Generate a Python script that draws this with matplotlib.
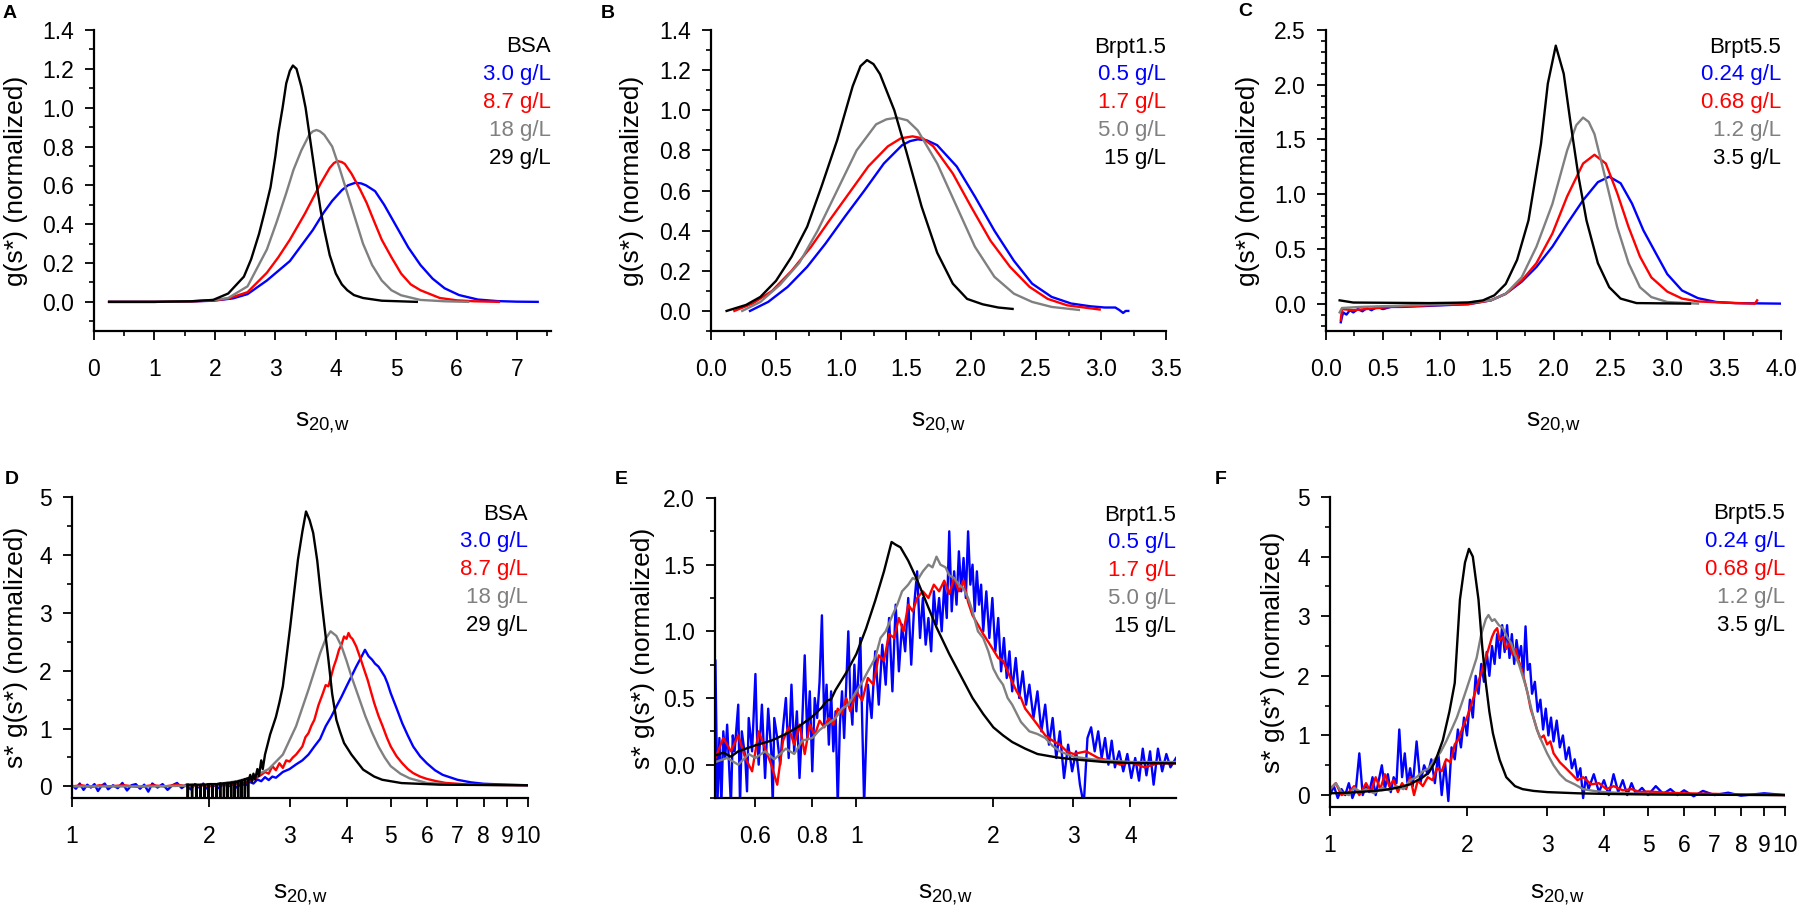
import matplotlib
matplotlib.use("Agg")
import matplotlib.pyplot as plt
from matplotlib.ticker import MultipleLocator, FixedLocator, FixedFormatter, NullLocator, FormatStrFormatter

plt.rcParams["font.family"] = ["Liberation Sans", "DejaVu Sans"]
plt.rcParams["mathtext.default"] = "regular"

BLUE, RED, GRAY, BLACK = "#0000ff", "#ff0000", "#808080", "#000000"

# ---------------- panel A: g(s*) BSA ----------------
a_blue = [(0.25, 0.0), (1.0, 0.0), (1.6, 0.002), (1.97, 0.006), (2.3, 0.018), (2.54, 0.04), (2.86, 0.11),
          (3.05, 0.16), (3.24, 0.21), (3.43, 0.29), (3.62, 0.37), (3.8, 0.46), (3.94, 0.52), (4.1, 0.575),
          (4.2, 0.6), (4.32, 0.613), (4.42, 0.61), (4.5, 0.6), (4.65, 0.57), (4.8, 0.5), (5.0, 0.39),
          (5.2, 0.28), (5.4, 0.19), (5.6, 0.12), (5.8, 0.07), (6.04, 0.035), (6.35, 0.012), (6.67, 0.004),
          (7.0, 0.001), (7.34, 0.0)]
a_red = [(0.25, 0.0), (1.0, 0.0), (1.6, 0.002), (2.0, 0.008), (2.22, 0.017), (2.54, 0.05), (2.86, 0.15),
         (3.05, 0.23), (3.24, 0.32), (3.49, 0.455), (3.75, 0.61), (3.9, 0.69), (3.97, 0.715), (4.03, 0.725),
         (4.1, 0.72), (4.15, 0.71), (4.26, 0.66), (4.4, 0.58), (4.51, 0.51), (4.64, 0.41), (4.76, 0.32),
         (4.92, 0.23), (5.08, 0.146), (5.24, 0.09), (5.4, 0.06), (5.72, 0.02), (6.0, 0.008), (6.3, 0.003),
         (6.7, 0.0)]
a_gray = [(0.25, 0.0), (1.0, 0.0), (1.6, 0.003), (2.0, 0.01), (2.22, 0.02), (2.54, 0.08), (2.86, 0.27),
          (3.02, 0.41), (3.18, 0.56), (3.3, 0.68), (3.43, 0.78), (3.56, 0.86), (3.62, 0.878), (3.68, 0.885),
          (3.74, 0.878), (3.81, 0.86), (3.94, 0.8), (4.06, 0.69), (4.19, 0.56), (4.32, 0.43), (4.45, 0.3),
          (4.6, 0.19), (4.76, 0.11), (4.92, 0.06), (5.08, 0.034), (5.4, 0.01), (5.8, 0.003), (6.19, 0.0)]
a_black = [(0.25, 0.0), (1.0, 0.0), (1.6, 0.003), (1.97, 0.01), (2.22, 0.043), (2.48, 0.13), (2.6, 0.22),
           (2.73, 0.35), (2.82, 0.46), (2.92, 0.59), (3.0, 0.75), (3.05, 0.87), (3.12, 1.0), (3.18, 1.125),
           (3.24, 1.19), (3.29, 1.217), (3.35, 1.2), (3.43, 1.108), (3.5, 1.0), (3.56, 0.87), (3.62, 0.74),
           (3.68, 0.61), (3.75, 0.47), (3.81, 0.37), (3.9, 0.24), (4.0, 0.146), (4.1, 0.09), (4.19, 0.06),
           (4.3, 0.035), (4.45, 0.02), (4.76, 0.006), (5.34, 0.0)]

# ---------------- panel B: g(s*) Brpt1.5 ----------------
b_blue = [(0.3, 0.0), (0.44, 0.045), (0.59, 0.12), (0.74, 0.22), (0.88, 0.335), (1.03, 0.47), (1.18, 0.6),
          (1.33, 0.735), (1.47, 0.826), (1.53, 0.846), (1.59, 0.855), (1.66, 0.85), (1.74, 0.826), (1.89, 0.72),
          (2.03, 0.57), (2.18, 0.4), (2.33, 0.25), (2.47, 0.136), (2.62, 0.07), (2.77, 0.037), (2.92, 0.023),
          (3.03, 0.017), (3.11, 0.017), (3.14, 0.005), (3.17, -0.01), (3.19, 0.0), (3.21, 0.0)]
b_red = [(0.18, 0.0), (0.32, 0.037), (0.47, 0.1), (0.62, 0.2), (0.77, 0.32), (0.91, 0.45), (1.06, 0.585),
         (1.21, 0.72), (1.36, 0.82), (1.46, 0.86), (1.55, 0.87), (1.63, 0.86), (1.71, 0.82), (1.86, 0.685),
         (2.0, 0.52), (2.15, 0.35), (2.3, 0.22), (2.45, 0.12), (2.59, 0.06), (2.74, 0.028), (2.99, 0.007)]
b_gray = [(0.24, 0.0), (0.38, 0.045), (0.53, 0.13), (0.68, 0.24), (0.82, 0.4), (0.97, 0.6), (1.12, 0.8),
          (1.27, 0.93), (1.35, 0.955), (1.43, 0.963), (1.51, 0.95), (1.59, 0.9), (1.74, 0.735), (1.89, 0.52),
          (2.03, 0.32), (2.18, 0.17), (2.33, 0.086), (2.47, 0.045), (2.62, 0.02), (2.83, 0.005)]
b_black = [(0.12, 0.0), (0.27, 0.03), (0.38, 0.07), (0.5, 0.15), (0.62, 0.27), (0.74, 0.42), (0.85, 0.62),
           (0.97, 0.85), (1.09, 1.12), (1.15, 1.22), (1.2, 1.25), (1.25, 1.23), (1.3, 1.18), (1.41, 1.0),
           (1.5, 0.8), (1.62, 0.52), (1.74, 0.29), (1.86, 0.136), (1.97, 0.06), (2.09, 0.033), (2.21, 0.017),
           (2.32, 0.01)]

# ---------------- panel C: g(s*) Brpt5.5 ----------------
c_blue = [(0.13, -0.17), (0.15, -0.08), (0.18, -0.1), (0.21, -0.06), (0.24, -0.08), (0.28, -0.05),
          (0.32, -0.07), (0.36, -0.04), (0.4, -0.06), (0.45, -0.03), (0.5, -0.05), (0.57, -0.03),
          (0.67, -0.03), (0.91, -0.02), (1.25, -0.005), (1.45, 0.03), (1.58, 0.09), (1.72, 0.2), (1.85, 0.335),
          (1.99, 0.52), (2.12, 0.73), (2.26, 0.945), (2.39, 1.11), (2.49, 1.16), (2.59, 1.1), (2.69, 0.915),
          (2.79, 0.67), (2.9, 0.46), (3.0, 0.27), (3.13, 0.12), (3.27, 0.05), (3.43, 0.015), (3.6, 0.005),
          (4.0, 0.0)]
c_red = [(0.13, -0.15), (0.14, -0.05), (0.24, -0.06), (0.4, -0.045), (0.57, -0.03), (0.91, -0.015),
         (1.25, -0.005), (1.45, 0.03), (1.58, 0.09), (1.72, 0.21), (1.85, 0.37), (1.99, 0.64), (2.12, 0.98),
         (2.26, 1.28), (2.36, 1.36), (2.46, 1.28), (2.56, 1.01), (2.66, 0.7), (2.76, 0.43), (2.86, 0.24),
         (3.0, 0.11), (3.13, 0.046), (3.27, 0.02), (3.6, 0.005), (3.77, 0.0), (3.79, 0.03)]
c_gray = [(0.12, -0.08), (0.14, -0.04), (0.3, -0.03), (0.6, -0.02), (1.0, -0.005), (1.25, 0.01), (1.45, 0.03),
          (1.58, 0.09), (1.72, 0.24), (1.85, 0.52), (1.99, 0.91), (2.12, 1.4), (2.2, 1.63), (2.26, 1.7),
          (2.31, 1.66), (2.36, 1.55), (2.46, 1.13), (2.56, 0.7), (2.66, 0.37), (2.76, 0.15), (2.86, 0.06),
          (3.0, 0.015), (3.27, 0.0)]
c_black = [(0.12, 0.03), (0.24, 0.01), (0.91, 0.005), (1.25, 0.01), (1.38, 0.03), (1.48, 0.076), (1.58, 0.18),
           (1.68, 0.4), (1.78, 0.76), (1.89, 1.46), (1.95, 2.01), (2.02, 2.357), (2.09, 2.1), (2.15, 1.65),
           (2.22, 1.16), (2.29, 0.76), (2.39, 0.37), (2.49, 0.15), (2.59, 0.046), (2.73, 0.005), (3.2, 0.0)]

# ---------------- panel D: s* g(s*) BSA ----------------
d_blue = [(1.0, 0.02), (1.02, -0.04), (1.04, 0.05), (1.06, -0.06), (1.08, 0.03), (1.1, -0.02), (1.12, 0.04),
          (1.14, -0.08), (1.16, 0.01), (1.18, 0.05), (1.2, -0.05), (1.23, 0.02), (1.26, -0.03), (1.29, 0.06),
          (1.32, -0.07), (1.35, 0.02), (1.38, 0.04), (1.41, -0.04), (1.44, 0.03), (1.47, -0.09), (1.5, 0.05),
          (1.54, -0.02), (1.58, 0.04), (1.62, -0.06), (1.66, 0.02), (1.7, 0.06), (1.74, -0.03), (1.78, 0.03),
          (1.82, -0.05), (1.86, 0.04), (1.9, -0.02), (1.94, 0.05), (1.98, -0.04), (2.02, 0.03), (2.06, 0.01),
          (2.1, -0.03), (2.15, 0.05), (2.2, 0.0), (2.25, 0.04), (2.3, -0.02), (2.35, 0.05), (2.4, 0.02),
          (2.45, 0.08), (2.5, 0.05), (2.55, 0.12), (2.6, 0.09), (2.65, 0.16), (2.7, 0.11), (2.75, 0.17),
          (2.8, 0.15), (2.9, 0.25), (3.0, 0.3), (3.1, 0.38), (3.2, 0.45), (3.3, 0.55), (3.4, 0.69), (3.5, 0.82),
          (3.6, 1.04), (3.7, 1.2), (3.8, 1.38), (3.9, 1.55), (4.0, 1.73), (4.1, 1.9), (4.2, 2.07), (4.3, 2.22),
          (4.39, 2.36), (4.47, 2.25), (4.55, 2.19), (4.62, 2.12), (4.7, 2.07), (4.78, 1.98), (4.85, 1.9),
          (4.92, 1.78), (5.0, 1.61), (5.15, 1.35), (5.3, 1.09), (5.45, 0.88), (5.6, 0.69), (5.8, 0.52),
          (6.0, 0.4), (6.25, 0.28), (6.5, 0.2), (7.0, 0.115), (7.5, 0.07), (8.0, 0.046), (9.0, 0.03),
          (10.0, 0.02)]
d_red = [(1.0, 0.0), (1.05, 0.02), (1.1, -0.01), (1.15, 0.02), (1.2, 0.0), (1.3, 0.02), (1.4, -0.01),
         (1.5, 0.02), (1.6, 0.0), (1.7, 0.03), (1.8, 0.0), (1.9, 0.02), (2.0, 0.01), (2.1, 0.03), (2.2, 0.02),
         (2.3, 0.05), (2.4, 0.06), (2.5, 0.12), (2.6, 0.2), (2.65, 0.25), (2.7, 0.22), (2.75, 0.35), (2.8, 0.28),
         (2.85, 0.4), (2.9, 0.32), (2.95, 0.45), (3.0, 0.43), (3.05, 0.5), (3.1, 0.55), (3.15, 0.62), (3.2, 0.69),
         (3.25, 0.85), (3.3, 0.92), (3.35, 1.05), (3.4, 1.15), (3.47, 1.4), (3.55, 1.61), (3.6, 1.75),
         (3.65, 1.73), (3.7, 1.9), (3.75, 2.07), (3.8, 2.2), (3.85, 2.36), (3.9, 2.45), (3.95, 2.59), (4.0, 2.55),
         (4.04, 2.65), (4.08, 2.58), (4.12, 2.55), (4.2, 2.42), (4.3, 2.19), (4.38, 2.0), (4.45, 1.84),
         (4.52, 1.65), (4.6, 1.44), (4.7, 1.22), (4.8, 1.04), (4.9, 0.85), (5.0, 0.69), (5.15, 0.52), (5.3, 0.4),
         (5.45, 0.3), (5.6, 0.23), (5.8, 0.17), (6.0, 0.13), (6.3, 0.09), (6.6, 0.06), (7.5, 0.03), (10.0, 0.02)]
d_gray = [(1.0, 0.0), (1.5, 0.0), (2.0, 0.02), (2.3, 0.09), (2.5, 0.17), (2.7, 0.3), (2.9, 0.55), (3.1, 1.04),
          (3.3, 1.67), (3.5, 2.3), (3.6, 2.55), (3.69, 2.68), (3.8, 2.6), (3.9, 2.42), (4.0, 2.17), (4.1, 1.9),
          (4.25, 1.55), (4.4, 1.21), (4.55, 0.93), (4.7, 0.69), (4.85, 0.5), (5.0, 0.35), (5.25, 0.22),
          (5.5, 0.14), (6.0, 0.06), (7.0, 0.03), (10.0, 0.02)]
d_black = [(1.79, 0.03), (1.794, -0.3), (1.798, 0.03), (1.83, 0.03), (1.834, -0.3), (1.838, 0.03),
           (1.87, 0.03), (1.874, -0.3), (1.878, 0.03), (1.91, 0.03), (1.914, -0.3), (1.918, 0.03),
           (1.95, 0.03), (1.954, -0.3), (1.958, 0.03), (1.99, 0.04), (1.994, -0.3), (1.998, 0.04),
           (2.03, 0.04), (2.034, -0.3), (2.038, 0.04), (2.07, 0.04), (2.074, -0.3), (2.078, 0.04),
           (2.11, 0.05), (2.114, -0.3), (2.118, 0.05), (2.15, 0.05), (2.154, -0.3), (2.158, 0.05),
           (2.19, 0.06), (2.194, -0.3), (2.198, 0.06), (2.23, 0.06), (2.234, -0.3), (2.238, 0.07),
           (2.27, 0.07), (2.274, -0.3), (2.278, 0.08), (2.31, 0.08), (2.314, -0.3), (2.318, 0.09),
           (2.35, 0.1), (2.354, -0.3), (2.358, 0.1), (2.39, 0.12), (2.394, -0.3), (2.398, 0.12),
           (2.43, 0.14), (2.434, -0.2), (2.438, 0.1), (2.46, 0.2), (2.48, 0.08), (2.5, 0.22), (2.52, 0.12),
           (2.55, 0.3), (2.57, 0.18), (2.6, 0.45), (2.62, 0.3), (2.65, 0.55), (2.68, 0.7), (2.72, 0.9),
           (2.76, 1.05), (2.8, 1.2), (2.85, 1.45), (2.9, 1.73), (2.95, 2.2), (3.01, 2.76), (3.07, 3.35),
           (3.13, 3.92), (3.2, 4.4), (3.26, 4.75), (3.32, 4.6), (3.38, 4.38), (3.45, 3.9), (3.51, 3.34),
           (3.58, 2.75), (3.65, 2.19), (3.72, 1.6), (3.8, 1.15), (3.87, 0.95), (3.95, 0.75), (4.1, 0.55),
           (4.35, 0.29), (4.6, 0.17), (4.79, 0.115), (5.28, 0.058), (6.41, 0.03), (10.0, 0.02)]

# ---------------- panel E: s* g(s*) Brpt1.5 ----------------
e_blue = [(0.49, 0.78), (0.495, -0.3), (0.5, 0.2), (0.505, -0.3), (0.51, 0.25), (0.515, 0.05), (0.52, 0.3),
          (0.53, -0.3), (0.535, 0.22), (0.54, 0.1), (0.55, 0.45), (0.555, -0.3), (0.56, 0.25), (0.57, 0.05),
          (0.575, -0.2), (0.58, 0.35), (0.59, 0.1), (0.6, 0.68), (0.605, 0.2), (0.61, 0.0), (0.62, 0.45),
          (0.63, -0.1), (0.64, 0.42), (0.65, 0.1), (0.655, -0.3), (0.66, 0.35), (0.67, 0.2), (0.68, 0.0),
          (0.69, 0.28), (0.7, 0.5), (0.71, 0.05), (0.72, 0.6), (0.73, 0.1), (0.74, 0.4), (0.75, -0.1),
          (0.76, 0.3), (0.77, 0.82), (0.78, 0.2), (0.79, 0.55), (0.8, -0.05), (0.81, 0.5), (0.82, 0.35),
          (0.83, 0.62), (0.84, 1.12), (0.85, 0.3), (0.86, 0.6), (0.87, 0.15), (0.88, 0.55), (0.89, 0.1),
          (0.9, 0.4), (0.91, -0.3), (0.92, 0.3), (0.93, 0.55), (0.94, 0.2), (0.95, 0.6), (0.96, 1.0),
          (0.97, 0.5), (0.98, 0.3), (0.99, 0.75), (1.0, 0.4), (1.02, 0.95), (1.04, -0.3), (1.06, 0.6),
          (1.08, 0.35), (1.1, 0.85), (1.12, 0.45), (1.14, 0.9), (1.16, 0.6), (1.18, 1.1), (1.2, 0.55),
          (1.22, 1.2), (1.24, 0.7), (1.26, 1.05), (1.28, 0.85), (1.3, 1.25), (1.32, 0.75), (1.34, 1.2),
          (1.36, 1.45), (1.38, 0.95), (1.4, 1.25), (1.42, 0.9), (1.44, 1.1), (1.46, 0.85), (1.48, 1.3),
          (1.5, 1.05), (1.52, 1.25), (1.54, 1.0), (1.56, 1.35), (1.58, 1.1), (1.6, 1.75), (1.62, 1.15),
          (1.64, 1.45), (1.66, 1.2), (1.68, 1.6), (1.7, 1.3), (1.72, 1.55), (1.74, 1.25), (1.76, 1.75),
          (1.78, 1.35), (1.8, 1.5), (1.82, 1.15), (1.84, 1.45), (1.86, 1.2), (1.88, 1.35), (1.9, 1.0),
          (1.93, 1.3), (1.96, 0.95), (1.99, 1.25), (2.02, 0.85), (2.05, 1.1), (2.08, 0.7), (2.11, 0.95),
          (2.14, 0.65), (2.17, 0.85), (2.2, 0.55), (2.24, 0.8), (2.28, 0.5), (2.32, 0.7), (2.36, 0.45),
          (2.4, 0.6), (2.45, 0.35), (2.5, 0.55), (2.55, 0.25), (2.6, 0.45), (2.65, 0.15), (2.7, 0.35),
          (2.75, 0.05), (2.8, 0.25), (2.86, -0.1), (2.92, 0.15), (2.98, -0.05), (3.04, 0.1), (3.1, -0.15),
          (3.16, -0.3), (3.22, 0.2), (3.28, 0.28), (3.34, 0.1), (3.4, 0.25), (3.46, 0.05), (3.52, 0.2),
          (3.58, 0.0), (3.64, 0.18), (3.7, -0.02), (3.78, 0.1), (3.86, -0.05), (3.94, 0.08), (4.02, -0.1),
          (4.1, 0.05), (4.18, -0.12), (4.26, 0.12), (4.34, -0.08), (4.42, 0.1), (4.5, -0.15), (4.6, 0.12),
          (4.7, -0.05), (4.8, 0.08), (4.9, -0.02), (5.04, 0.05)]
e_red = [(0.49, 0.05), (0.51, 0.2), (0.53, 0.1), (0.55, 0.22), (0.57, 0.05), (0.59, -0.05), (0.61, 0.25),
         (0.63, 0.12), (0.65, 0.0), (0.67, -0.15), (0.69, 0.18), (0.71, 0.28), (0.73, 0.15), (0.75, 0.3),
         (0.77, 0.08), (0.79, 0.3), (0.81, 0.22), (0.83, 0.33), (0.85, 0.28), (0.87, 0.35), (0.89, 0.3),
         (0.91, 0.42), (0.93, 0.38), (0.95, 0.5), (0.97, 0.4), (1.0, 0.55), (1.03, 0.48), (1.06, 0.65),
         (1.09, 0.6), (1.12, 0.82), (1.15, 0.78), (1.18, 0.98), (1.21, 0.95), (1.24, 1.1), (1.27, 1.0),
         (1.3, 1.2), (1.33, 1.15), (1.36, 1.25), (1.4, 1.3), (1.44, 1.25), (1.48, 1.35), (1.52, 1.3),
         (1.56, 1.38), (1.6, 1.28), (1.64, 1.4), (1.68, 1.3), (1.72, 1.38), (1.76, 1.22), (1.8, 1.12),
         (1.85, 1.05), (1.9, 0.98), (1.95, 0.92), (2.0, 0.86), (2.05, 0.8), (2.1, 0.78), (2.15, 0.7),
         (2.2, 0.62), (2.25, 0.55), (2.3, 0.5), (2.35, 0.42), (2.4, 0.38), (2.5, 0.3), (2.6, 0.22), (2.7, 0.18),
         (2.8, 0.15), (2.9, 0.1), (3.0, 0.08), (3.2, 0.1), (3.4, 0.05), (3.6, 0.03), (3.8, 0.0), (4.0, 0.02),
         (4.3, -0.02), (4.6, 0.01), (5.04, 0.01)]
e_gray = [(0.49, 0.02), (0.52, 0.05), (0.55, 0.0), (0.58, 0.08), (0.6, 0.05), (0.63, 0.1), (0.66, 0.04),
          (0.7, 0.12), (0.73, 0.08), (0.76, 0.18), (0.8, 0.2), (0.83, 0.26), (0.86, 0.3), (0.9, 0.35),
          (0.93, 0.42), (0.96, 0.45), (1.0, 0.55), (1.03, 0.62), (1.06, 0.7), (1.1, 0.8), (1.13, 0.95),
          (1.16, 1.0), (1.2, 1.12), (1.23, 1.2), (1.26, 1.3), (1.3, 1.35), (1.33, 1.4), (1.36, 1.38),
          (1.4, 1.45), (1.44, 1.5), (1.47, 1.48), (1.5, 1.56), (1.53, 1.5), (1.57, 1.48), (1.6, 1.42),
          (1.64, 1.4), (1.68, 1.35), (1.72, 1.32), (1.76, 1.25), (1.8, 1.15), (1.85, 1.0), (1.9, 0.95),
          (1.95, 0.85), (2.0, 0.72), (2.05, 0.65), (2.1, 0.6), (2.15, 0.5), (2.2, 0.45), (2.3, 0.32),
          (2.4, 0.25), (2.5, 0.23), (2.6, 0.2), (2.7, 0.14), (2.8, 0.1), (3.0, 0.06), (3.3, 0.04), (3.6, 0.03),
          (4.0, 0.02), (5.04, 0.02)]
e_black = [(0.49, 0.07), (0.51, 0.09), (0.53, 0.06), (0.55, 0.1), (0.6, 0.145), (0.65, 0.18), (0.7, 0.23),
           (0.75, 0.29), (0.8, 0.36), (0.84, 0.43), (0.86, 0.48), (0.88, 0.49), (0.9, 0.56), (0.95, 0.69),
           (1.0, 0.83), (1.05, 1.02), (1.1, 1.23), (1.15, 1.45), (1.195, 1.67), (1.22, 1.65), (1.25, 1.63),
           (1.3, 1.53), (1.35, 1.41), (1.4, 1.28), (1.5, 1.03), (1.6, 0.83), (1.7, 0.66), (1.8, 0.5),
           (1.9, 0.38), (2.0, 0.28), (2.1, 0.22), (2.2, 0.17), (2.35, 0.12), (2.5, 0.08), (2.75, 0.055),
           (3.0, 0.04), (3.5, 0.02), (4.0, 0.012), (5.04, 0.01)]

# ---------------- panel F: s* g(s*) Brpt5.5 ----------------
f_blue = [(1.0, 0.0), (1.02, 0.15), (1.04, -0.05), (1.06, 0.1), (1.08, 0.0), (1.1, 0.2), (1.12, -0.05),
          (1.14, 0.1), (1.16, 0.7), (1.18, 0.0), (1.2, 0.15), (1.22, 0.05), (1.24, 0.3), (1.26, 0.0),
          (1.28, 0.25), (1.3, 0.5), (1.32, 0.1), (1.34, 0.35), (1.36, 0.05), (1.38, 0.3), (1.4, 0.2),
          (1.42, 1.1), (1.44, 0.3), (1.46, 0.7), (1.48, 0.2), (1.5, 0.45), (1.52, 0.15), (1.55, 0.9),
          (1.58, 0.2), (1.61, 0.5), (1.64, 0.35), (1.67, 0.6), (1.7, 0.2), (1.73, 0.7), (1.76, 0.0),
          (1.79, 0.55), (1.82, -0.1), (1.85, 0.8), (1.88, 0.6), (1.91, 1.1), (1.94, 0.8), (1.97, 1.3),
          (2.0, 1.0), (2.03, 1.6), (2.06, 1.3), (2.09, 2.0), (2.12, 1.7), (2.15, 2.2), (2.18, 1.9), (2.21, 2.4),
          (2.24, 2.0), (2.27, 2.5), (2.3, 2.2), (2.33, 2.7), (2.36, 2.3), (2.39, 2.85), (2.42, 2.4),
          (2.45, 2.85), (2.48, 2.3), (2.51, 2.7), (2.54, 2.2), (2.57, 2.6), (2.6, 2.3), (2.63, 2.5), (2.66, 2.0),
          (2.69, 2.83), (2.72, 2.1), (2.75, 2.2), (2.78, 1.7), (2.82, 1.9), (2.86, 1.4), (2.9, 1.6), (2.94, 1.1),
          (2.98, 1.45), (3.02, 1.0), (3.06, 1.3), (3.1, 0.9), (3.15, 1.25), (3.2, 0.8), (3.25, 1.0), (3.3, 0.6),
          (3.35, 0.8), (3.4, 0.45), (3.45, 0.6), (3.5, 0.3), (3.55, 0.45), (3.6, -0.05), (3.65, 0.3),
          (3.7, 0.1), (3.8, 0.35), (3.9, 0.05), (4.0, 0.25), (4.1, 0.0), (4.2, 0.35), (4.3, 0.05), (4.4, 0.25),
          (4.5, 0.0), (4.6, 0.2), (4.7, 0.02), (4.85, 0.12), (5.0, 0.0), (5.2, 0.15), (5.4, 0.02), (5.6, 0.1),
          (5.8, 0.0), (6.0, 0.08), (6.3, -0.02), (6.6, 0.07), (7.0, 0.0), (7.5, 0.04), (8.0, -0.01),
          (9.0, 0.03), (10.0, 0.0)]
f_red = [(1.0, 0.1), (1.03, 0.2), (1.06, 0.0), (1.1, 0.05), (1.13, 0.15), (1.16, 0.0), (1.2, 0.2),
         (1.23, 0.05), (1.26, 0.3), (1.29, 0.1), (1.32, 0.35), (1.35, 0.15), (1.38, 0.25), (1.41, 0.05),
         (1.44, 0.2), (1.47, 0.1), (1.5, 0.3), (1.53, 0.0), (1.56, 0.25), (1.6, 0.15), (1.64, 0.3), (1.68, 0.25),
         (1.72, 0.45), (1.76, 0.4), (1.8, 0.6), (1.84, 0.55), (1.88, 0.85), (1.92, 0.95), (1.96, 1.15),
         (2.0, 1.3), (2.04, 1.5), (2.08, 1.7), (2.12, 1.9), (2.16, 2.1), (2.2, 2.3), (2.24, 2.5), (2.27, 2.65),
         (2.3, 2.75), (2.33, 2.8), (2.36, 2.6), (2.4, 2.65), (2.44, 2.45), (2.48, 2.55), (2.52, 2.35),
         (2.56, 2.45), (2.6, 2.25), (2.64, 2.1), (2.68, 1.9), (2.72, 1.7), (2.76, 1.45), (2.8, 1.3),
         (2.85, 1.1), (2.9, 0.95), (2.95, 1.0), (3.0, 0.85), (3.05, 0.9), (3.1, 0.7), (3.2, 0.55), (3.3, 0.45),
         (3.4, 0.35), (3.5, 0.25), (3.6, 0.3), (3.75, 0.18), (3.9, 0.2), (4.05, 0.1), (4.2, 0.15), (4.4, 0.08),
         (4.6, 0.1), (4.8, 0.05), (5.0, 0.06), (5.5, 0.04), (6.0, 0.03), (7.0, 0.02), (8.0, 0.01), (10.0, 0.0)]
f_gray = [(1.0, 0.1), (1.03, 0.2), (1.06, 0.05), (1.1, 0.0), (1.13, 0.12), (1.17, 0.05), (1.2, 0.1),
          (1.25, 0.03), (1.3, 0.12), (1.35, 0.08), (1.4, 0.15), (1.45, 0.1), (1.5, 0.25), (1.55, 0.3),
          (1.6, 0.4), (1.65, 0.45), (1.7, 0.6), (1.75, 0.72), (1.8, 0.9), (1.85, 1.1), (1.9, 1.3), (1.95, 1.55),
          (2.0, 1.8), (2.05, 2.05), (2.1, 2.3), (2.15, 2.7), (2.2, 2.95), (2.23, 3.02), (2.27, 2.92),
          (2.3, 2.95), (2.35, 2.85), (2.4, 2.8), (2.45, 2.65), (2.5, 2.55), (2.55, 2.35), (2.6, 2.2),
          (2.65, 2.0), (2.7, 1.8), (2.75, 1.55), (2.8, 1.3), (2.85, 1.1), (2.9, 0.95), (3.0, 0.7), (3.1, 0.5),
          (3.2, 0.35), (3.3, 0.25), (3.45, 0.18), (3.6, 0.1), (3.8, 0.07), (4.0, 0.05), (4.5, 0.03),
          (5.0, 0.02), (6.0, 0.01), (10.0, 0.0)]
f_black = [(1.0, 0.03), (1.1, 0.04), (1.2, 0.06), (1.3, 0.08), (1.4, 0.12), (1.5, 0.18), (1.6, 0.3),
           (1.65, 0.38), (1.7, 0.55), (1.77, 0.92), (1.83, 1.4), (1.88, 1.88), (1.93, 3.28), (1.98, 3.9),
           (2.02, 4.13), (2.06, 4.0), (2.12, 3.28), (2.16, 2.5), (2.2, 1.88), (2.24, 1.4), (2.28, 1.04),
           (2.32, 0.8), (2.36, 0.59), (2.44, 0.3), (2.55, 0.15), (2.65, 0.1), (2.8, 0.07), (3.0, 0.05),
           (3.5, 0.03), (4.0, 0.02), (5.0, 0.01), (10.0, 0.0)]

labels_bsa = ["BSA", "3.0 g/L", "8.7 g/L", "18 g/L", "29 g/L"]
labels_b15 = ["Brpt1.5", "0.5 g/L", "1.7 g/L", "5.0 g/L", "15 g/L"]
labels_b55 = ["Brpt5.5", "0.24 g/L", "0.68 g/L", "1.2 g/L", "3.5 g/L"]
label_colors = [BLACK, BLUE, RED, GRAY, BLACK]

log_ticks = [1, 2, 3, 4, 5, 6, 7, 8, 9, 10]
e_ticks = [0.6, 0.8, 1, 2, 3, 4]

W, H = 1800, 911
fig = plt.figure(figsize=(W / 100, H / 100), dpi=100)


def px_axes(l, r, t, b):
    return fig.add_axes([l / W, 1 - b / H, (r - l) / W, (b - t) / H])


def ftext(x, y, s, **kw):
    fig.text(x / W, 1 - y / H, s, **kw)


def style(ax):
    for side in ("top", "right"):
        ax.spines[side].set_visible(False)
    for side in ("left", "bottom"):
        ax.spines[side].set_linewidth(1.6)
    ax.tick_params(which="major", direction="out", length=6.5, width=1.3, labelsize=16.5)
    ax.tick_params(which="minor", direction="out", length=3.5, width=1.2)
    ax.tick_params(axis="x", which="major", pad=13)
    ax.tick_params(axis="y", which="major", pad=8)


def draw(ax, series):
    for pts, col in series:
        xs = [p[0] for p in pts]
        ys = [p[1] for p in pts]
        ax.plot(xs, ys, color=col, lw=1.7)


panels = [
    # axes box in pixels (left, right, top, bottom), series, labels, letter, letter position, ylabel x
    ((94, 551, 30, 331), [(a_blue, BLUE), (a_red, RED), (a_gray, GRAY), (a_black, BLACK)], labels_bsa,
     "A", (3, 14), 16, "g(s*) (normalized)"),
    ((711, 1166, 30, 331), [(b_blue, BLUE), (b_red, RED), (b_gray, GRAY), (b_black, BLACK)], labels_b15,
     "B", (601, 14), 632, "g(s*) (normalized)"),
    ((1326, 1781, 30, 331), [(c_blue, BLUE), (c_red, RED), (c_gray, GRAY), (c_black, BLACK)], labels_b55,
     "C", (1238, 12), 1248, "g(s*) (normalized)"),
    ((72, 528, 497, 798), [(d_blue, BLUE), (d_red, RED), (d_gray, GRAY), (d_black, BLACK)], labels_bsa,
     "D", (5, 480), 16, "s* g(s*) (normalized)"),
    ((715, 1176, 498, 798), [(e_blue, BLUE), (e_red, RED), (e_gray, GRAY), (e_black, BLACK)], labels_b15,
     "E", (615, 480), 643, "s* g(s*) (normalized)"),
    ((1330, 1785, 497, 807), [(f_blue, BLUE), (f_red, RED), (f_gray, GRAY), (f_black, BLACK)], labels_b55,
     "F", (1215, 480), 1273, "s* g(s*) (normalized)"),
]

axes = []
for (l, r, t, b), series, labs, letter, (lx, ly), yl_x, ylab in panels:
    ax = px_axes(l, r, t, b)
    style(ax)
    draw(ax, series)
    axes.append(ax)
    # coloured sample labels, right aligned to the axis end
    y0 = t + 17
    for i, (s, c) in enumerate(zip(labs, label_colors)):
        ftext(r, y0 + i * 27.8, s, color=c, fontsize=16, ha="right", va="center")
    ftext(lx, ly, letter, fontsize=14, fontweight="bold", ha="left", va="center")
    ftext(yl_x, (t + b) / 2, ylab, fontsize=19, rotation=90, ha="center", va="center")
    ftext((l + r) / 2, 423 if t < 100 else 895, "s$_\\mathregular{20{,}w}$", fontsize=19,
          ha="center", va="center")

ax_a, ax_b, ax_c, ax_d, ax_e, ax_f = axes

ax_a.set_xlim(0, 7.56)
ax_a.set_ylim(-0.15, 1.4)
ax_a.xaxis.set_major_locator(MultipleLocator(1))
ax_a.xaxis.set_minor_locator(MultipleLocator(0.5))
ax_a.yaxis.set_major_locator(MultipleLocator(0.2))
ax_a.yaxis.set_minor_locator(MultipleLocator(0.1))
ax_a.yaxis.set_major_formatter(FormatStrFormatter("%.1f"))

ax_b.set_xlim(0, 3.5)
ax_b.set_ylim(-0.1, 1.4)
ax_b.xaxis.set_major_locator(MultipleLocator(0.5))
ax_b.xaxis.set_minor_locator(MultipleLocator(0.25))
ax_b.xaxis.set_major_formatter(FormatStrFormatter("%.1f"))
ax_b.yaxis.set_major_locator(MultipleLocator(0.2))
ax_b.yaxis.set_minor_locator(MultipleLocator(0.1))
ax_b.yaxis.set_major_formatter(FormatStrFormatter("%.1f"))

ax_c.set_xlim(0, 4.0)
ax_c.set_ylim(-0.25, 2.5)
ax_c.xaxis.set_major_locator(MultipleLocator(0.5))
ax_c.xaxis.set_minor_locator(MultipleLocator(0.25))
ax_c.xaxis.set_major_formatter(FormatStrFormatter("%.1f"))
ax_c.yaxis.set_major_locator(MultipleLocator(0.5))
ax_c.yaxis.set_minor_locator(MultipleLocator(0.1))
ax_c.yaxis.set_major_formatter(FormatStrFormatter("%.1f"))

for ax in (ax_d, ax_f):
    ax.set_xscale("log")
    ax.set_xlim(1, 10)
    ax.set_ylim(-0.2, 5)
    ax.xaxis.set_major_locator(FixedLocator(log_ticks))
    ax.xaxis.set_major_formatter(FixedFormatter([str(v) for v in log_ticks]))
    ax.xaxis.set_minor_locator(NullLocator())
    ax.yaxis.set_major_locator(MultipleLocator(1))
    ax.yaxis.set_minor_locator(MultipleLocator(0.5))
    ax.yaxis.set_major_formatter(FormatStrFormatter("%d"))

ax_e.set_xscale("log")
ax_e.set_xlim(0.489, 5.04)
ax_e.set_ylim(-0.25, 2.0)
ax_e.xaxis.set_major_locator(FixedLocator(e_ticks))
ax_e.xaxis.set_major_formatter(FixedFormatter([str(v) for v in e_ticks]))
ax_e.xaxis.set_minor_locator(NullLocator())
ax_e.yaxis.set_major_locator(MultipleLocator(0.5))
ax_e.yaxis.set_minor_locator(MultipleLocator(0.25))
ax_e.yaxis.set_major_formatter(FormatStrFormatter("%.1f"))

fig.savefig("out.png", dpi=100, facecolor="white")
